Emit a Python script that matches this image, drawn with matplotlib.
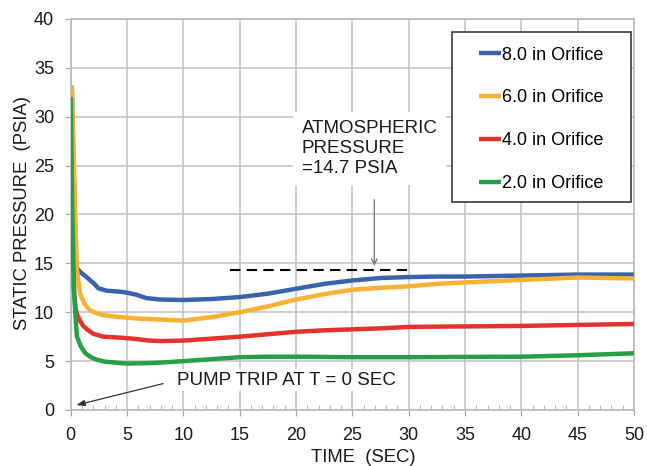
import numpy as np
import matplotlib.pyplot as plt
from matplotlib.patches import Rectangle

plt.rcParams['font.family'] = ['Liberation Sans', 'DejaVu Sans']

# time (sec) and static pressure (psia), one pair per orifice size
t_8in = [0, 0.1, 0.35, 0.5, 0.85, 1.3, 1.7, 2.1, 2.45, 3.2, 4.4, 5.0, 5.8, 6.7, 7.9, 10,
         12.5, 15, 17.5, 20, 22.5, 25, 27.5, 30, 32.5, 35, 40, 45, 50]
p_8in = [33, 33, 20, 14.6, 14.1, 13.7, 13.3, 12.9, 12.45, 12.2, 12.1, 12.0, 11.8, 11.45, 11.3, 11.25,
         11.35, 11.55, 11.9, 12.4, 12.9, 13.25, 13.5, 13.6, 13.65, 13.65, 13.75, 13.85, 13.85]

t_6in = [0, 0.1, 0.3, 0.45, 0.55, 0.83, 1.2, 1.7, 2.3, 2.9, 4.4, 6, 8, 10,
         12.5, 15, 17.5, 20, 22.5, 25, 27.5, 30, 32.5, 35, 40, 45, 50]
p_6in = [33, 33, 24, 18, 14.3, 11.9, 10.9, 10.2, 9.9, 9.7, 9.5, 9.35, 9.25, 9.15,
         9.5, 10.0, 10.6, 11.3, 11.85, 12.3, 12.5, 12.65, 12.9, 13.05, 13.3, 13.55, 13.45]

t_4in = [0, 0.15, 0.3, 0.45, 0.55, 0.8, 1.1, 1.5, 2.0, 2.9, 4.4, 5.5, 7, 8, 10,
         12.5, 15, 17.5, 20, 22.5, 25, 27.5, 30, 35, 40, 45, 50]
p_4in = [32, 20, 12, 10.3, 9.8, 9.2, 8.6, 8.2, 7.8, 7.5, 7.4, 7.3, 7.1, 7.05, 7.1,
         7.3, 7.5, 7.75, 8.0, 8.15, 8.25, 8.35, 8.5, 8.55, 8.6, 8.7, 8.8]

t_2in = [0, 0.15, 0.3, 0.4, 0.55, 0.9, 1.3, 1.8, 2.3, 3, 4.4, 5, 7, 8, 10,
         12.5, 15, 17.5, 20, 25, 30, 35, 40, 45, 50]
p_2in = [32, 20, 12, 10.0, 7.5, 6.5, 5.8, 5.4, 5.15, 4.95, 4.8, 4.75, 4.8, 4.85, 5.0,
         5.2, 5.4, 5.45, 5.45, 5.4, 5.4, 5.43, 5.45, 5.6, 5.8]

labels = ['8.0 in Orifice', '6.0 in Orifice', '4.0 in Orifice', '2.0 in Orifice']
colors = ['#3A62AD', '#F7B233', '#E5322D', '#25A047']

atm_t = [14.1, 30.4]
atm_p = [14.3, 14.3]

fig = plt.figure(figsize=(6.47, 4.66), dpi=100)
ax = fig.add_axes([0.1093, 0.1202, 0.8706, 0.8391])

series = [(t_8in, p_8in), (t_6in, p_6in), (t_4in, p_4in), (t_2in, p_2in)]
zorders = [3, 5, 4, 6]
handles = []
for (t, p), lab, col, z in zip(series, labels, colors, zorders):
    h, = ax.plot(t, p, color=col, lw=3.2, label=lab, zorder=z,
                 solid_joinstyle='round', solid_capstyle='butt')
    handles.append(h)

# atmospheric pressure reference
ax.plot(atm_t, atm_p, color='black', lw=1.5, dashes=(5, 3), zorder=7)

ax.set_xlim(0, 50)
ax.set_ylim(0, 40)
ax.set_xticks(np.arange(0, 51, 5))
ax.set_xticks(np.arange(0, 51, 1), minor=True)
ax.set_yticks(np.arange(0, 41, 5))
ax.grid(True, which='major', color='#c4c0c0', lw=1.1, zorder=0)
ax.set_axisbelow(True)
for s in ax.spines.values():
    s.set_color('#b8b4b4')
    s.set_linewidth(1.1)

ax.tick_params(which='major', direction='out', length=4, color='#a8a4a4',
               labelsize=13, labelcolor='#1a1a1a')
ax.tick_params(axis='x', which='major', pad=8)
ax.tick_params(axis='y', which='major', pad=8)
ax.tick_params(axis='x', which='minor', direction='in', length=3.5, color='#a8a4a4')

ax.set_xlabel('TIME  (SEC)', fontsize=13.3, color='#1a1a1a')
ax.set_ylabel('STATIC PRESSURE  (PSIA)', fontsize=13.3, color='#1a1a1a')
ax.xaxis.set_label_coords(0.519, -0.099)
ax.yaxis.set_label_coords(-0.07, 0.505)

# annotations
ax.text(20.5, 29.65, 'ATMOSPHERIC\nPRESSURE\n=14.7 PSIA', fontsize=13.5, va='top', ha='left',
        linespacing=1.22, color='#1a1a1a', zorder=8,
        bbox=dict(facecolor='white', edgecolor='none', pad=6))
ax.annotate('', xy=(26.95, 14.45), xytext=(26.95, 21.8),
            arrowprops=dict(arrowstyle='->', color='#7a7a7a', lw=1.0), zorder=8)

ax.text(9.45, 3.05, 'PUMP TRIP AT T = 0 SEC', fontsize=13.5, va='center', ha='left',
        color='#1a1a1a', zorder=8,
        bbox=dict(facecolor='white', edgecolor='none', pad=2))
ax.annotate('', xy=(0.5, 0.5), xytext=(8.2, 2.7),
            arrowprops=dict(arrowstyle='-|>,head_length=0.5,head_width=0.18',
                            color='#333333', lw=0.9, shrinkA=0, shrinkB=0), zorder=8)

# legend with its own frame
ax.add_patch(Rectangle((0.6764, 0.532), 0.3183, 0.4355, transform=ax.transAxes,
                       facecolor='white', edgecolor='#3a3a3a', lw=1.2, zorder=9))
ax.legend(handles=handles, loc='center', bbox_to_anchor=(0.8355, 0.7435), frameon=False,
          fontsize=13, labelspacing=1.43, handlelength=1.2, handletextpad=0.05,
          borderpad=0).set_zorder(10)

fig.savefig('out.png', dpi=100)
